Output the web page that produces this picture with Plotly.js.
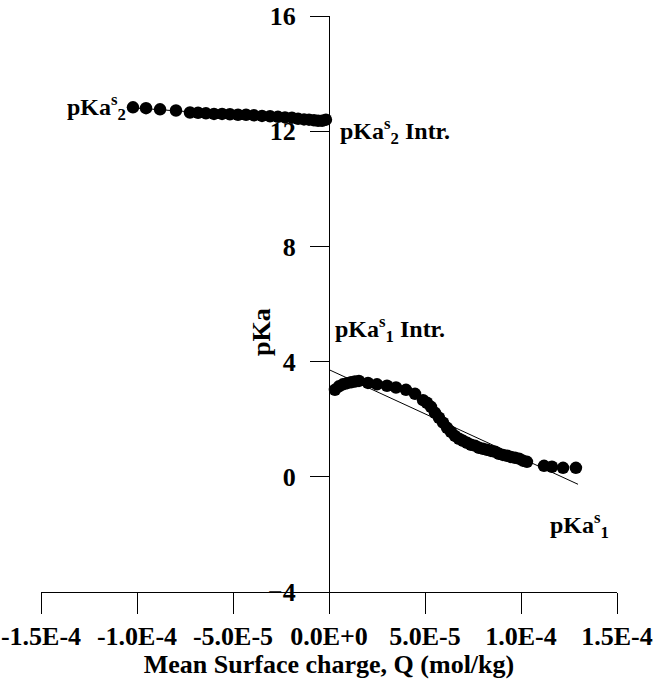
<!DOCTYPE html>
<html>
<head>
<meta charset="utf-8">
<script src="https://cdn.plot.ly/plotly-3.0.1.min.js"></script>
<style>html,body{margin:0;padding:0;background:#fff;}#chart{width:654px;height:679px;}</style>
</head>
<body>
<div id="chart"></div>
<script>
// Upper series: pKa^s_2 vs mean surface charge (units of 1e-5 mol/kg)
var q2 = [-10.21,-9.53,-8.80,-7.97,-7.24,-6.82,-6.41,-5.99,-5.57,-5.16,-4.74,-4.32,-3.91,-3.49,-3.07,-2.66,-2.29,-1.93,-1.61,-1.30,-1.04,-0.78,-0.57,-0.36,-0.16];
var pka2 = [12.83,12.80,12.76,12.72,12.65,12.64,12.62,12.60,12.60,12.59,12.57,12.57,12.55,12.53,12.52,12.50,12.48,12.47,12.43,12.41,12.40,12.38,12.36,12.36,12.40];
// Lower series: pKa^s_1
var q1 = [0.31,0.52,0.73,0.94,1.15,1.35,1.56,2.03,2.50,3.02,3.49,4.01,4.48,4.90,5.10,5.31,5.52,5.73,5.94,6.15,6.35,6.56,6.77,6.98,7.19,7.40,7.60,7.81,8.02,8.23,8.44,8.65,8.85,9.06,9.27,9.48,9.69,9.90,10.10,10.31,11.20,11.61,12.19,12.86];
var pka1 = [3.02,3.14,3.21,3.25,3.28,3.31,3.33,3.26,3.21,3.16,3.10,3.02,2.88,2.66,2.57,2.43,2.22,2.05,1.88,1.70,1.56,1.42,1.32,1.25,1.18,1.11,1.08,1.01,0.97,0.94,0.90,0.87,0.80,0.76,0.73,0.69,0.66,0.63,0.56,0.52,0.38,0.35,0.31,0.31];
// Linear fits
var fit2Q = [-10.42, 0];
var fit2Pka = [12.82, 12.34];
var fit1Q = [0, 12.97];
var fit1Pka = [3.72, -0.26];
// Axis ticks
var xTickVals = [-15,-10,-5,0,5,10,15];
var xTickText = ["-1.5E-4","-1.0E-4","-5.0E-5","0.0E+0","5.0E-5","1.0E-4","1.5E-4"];
var yTickVals = [-4,0,4,8,12,16];

var scale = 1e-5;
function sc(a){return a.map(function(v){return v*scale;});}

var fontFam = 'Liberation Serif, Times New Roman, serif';
var markerStyle = {color:'#000', size:12.5, symbol:'circle'};
var lineStyle = {color:'#000', width:1};

var traces = [
  {x: sc(fit2Q), y: fit2Pka, mode:'lines', line: lineStyle, hoverinfo:'skip'},
  {x: sc(fit1Q), y: fit1Pka, mode:'lines', line: lineStyle, hoverinfo:'skip'},
  {x: sc(q2), y: pka2, mode:'markers', marker: markerStyle},
  {x: sc(q1), y: pka1, mode:'markers', marker: markerStyle}
];

var tf = {family: fontFam, size: 26, color:'#000', weight: 'bold'};
var af = {family: fontFam, size: 24, color:'#000', weight: 'bold'};

var layout = {
  width: 654, height: 679,
  margin: {l: 41, r: 37, t: 16, b: 87, pad: 0},
  paper_bgcolor:'#fff', plot_bgcolor:'#fff',
  showlegend: false,
  xaxis: {
    range: [-15*scale, 15*scale],
    tickvals: sc(xTickVals), ticktext: xTickText,
    ticks:'outside', ticklen: 21, tickwidth: 1, tickcolor:'#000',
    showline: true, linecolor:'#000', linewidth: 1,
    showgrid: false, zeroline: false,
    tickfont: tf,
    title: {text:'Mean Surface charge, Q (mol/kg)', font: tf, standoff: 2}
  },
  yaxis: {
    range: [-4, 16],
    anchor: 'free', position: 0.5,
    tickvals: yTickVals,
    ticks:'outside', ticklen: 19, tickwidth: 1, tickcolor:'#000',
    showline: true, linecolor:'#000', linewidth: 1,
    showgrid: false, zeroline: false,
    tickfont: tf, ticklabelstandoff: 9
  },
  annotations: [
    {x: -13.75*scale, y: 12.85, xref:'x', yref:'y', xanchor:'left', yanchor:'middle', showarrow:false,
     text:'pKa<sup>s</sup><sub>2</sub>', font: af},
    {x: 0.47*scale, y: 12.0, xref:'x', yref:'y', xanchor:'left', yanchor:'middle', showarrow:false,
     text:'pKa<sup>s</sup><sub>2</sub> Intr.', font: af},
    {x: 0.21*scale, y: 5.14, xref:'x', yref:'y', xanchor:'left', yanchor:'middle', showarrow:false,
     text:'pKa<sup>s</sup><sub>1</sub> Intr.', font: af},
    {x: 11.4*scale, y: -1.67, xref:'x', yref:'y', xanchor:'left', yanchor:'middle', showarrow:false,
     text:'pKa<sup>s</sup><sub>1</sub>', font: af},
    {x: -3.49*scale, y: 5.03, xref:'x', yref:'y', xanchor:'center', yanchor:'middle', showarrow:false,
     textangle: -90, text:'pKa', font: tf}
  ]
};

Plotly.newPlot('chart', traces, layout, {displayModeBar:false});
</script>
</body>
</html>
